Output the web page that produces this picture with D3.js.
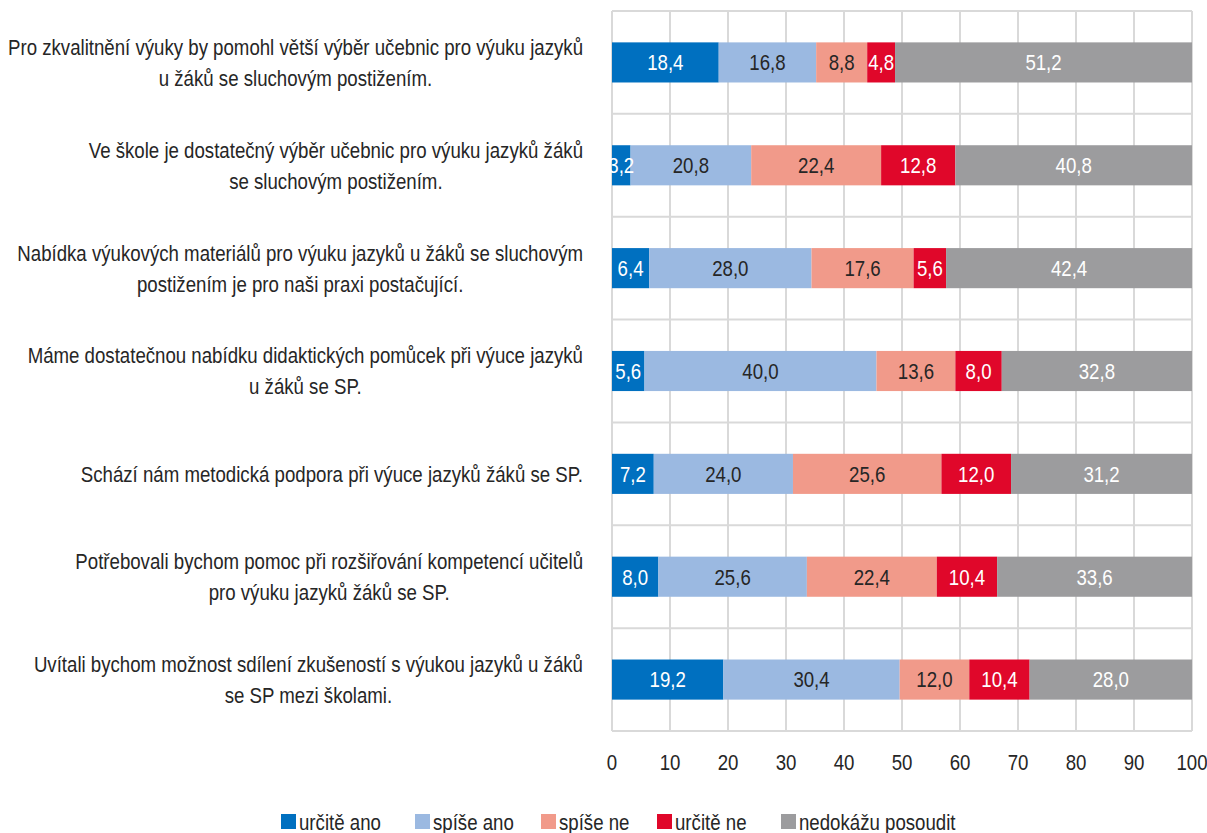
<!DOCTYPE html>
<html>
<head>
<meta charset="utf-8">
<script src="https://cdn.jsdelivr.net/npm/d3@7"></script>
<style>
  body { margin: 0; background: #fff; }
  svg text { font-family: "Liberation Sans", Arial, sans-serif; fill: #262626; }
</style>
</head>
<body>
<script>
// Data
var statements = [
  ["Pro zkvalitnění výuky by pomohl větší výběr učebnic pro výuku jazyků", "u žáků se sluchovým postižením."],
  ["Ve škole je dostatečný výběr učebnic pro výuku jazyků žáků", "se sluchovým postižením."],
  ["Nabídka výukových materiálů pro výuku jazyků u žáků se sluchovým", "postižením je pro naši praxi postačující."],
  ["Máme dostatečnou nabídku didaktických pomůcek při výuce jazyků", "u žáků se SP."],
  ["Schází nám metodická podpora při výuce jazyků žáků se SP."],
  ["Potřebovali bychom pomoc při rozšiřování kompetencí učitelů", "pro výuku jazyků žáků se SP."],
  ["Uvítali bychom možnost sdílení zkušeností s výukou jazyků u žáků", "se SP mezi školami."]
];
var seriesNames = ["určitě ano", "spíše ano", "spíše ne", "určitě ne", "nedokážu posoudit"];
var urciteAno = [18.4, 3.2, 6.4, 5.6, 7.2, 8.0, 19.2];
var spiseAno  = [16.8, 20.8, 28.0, 40.0, 24.0, 25.6, 30.4];
var spiseNe   = [8.8, 22.4, 17.6, 13.6, 25.6, 22.4, 12.0];
var urciteNe  = [4.8, 12.8, 5.6, 8.0, 12.0, 10.4, 10.4];
var nedokazu  = [51.2, 40.8, 42.4, 32.8, 31.2, 33.6, 28.0];
var xTicks = [0, 10, 20, 30, 40, 50, 60, 70, 80, 90, 100];

var colors = ["#0070c0", "#9bb9e1", "#f19a8a", "#e0072a", "#9c9c9e"];
var labelColors = ["#ffffff", "#262626", "#262626", "#ffffff", "#ffffff"];

// Set up svg
var svgWidth = 1207;
var svgHeight = 833;
var margin = { top: 11, right: 15, bottom: 102, left: 612 };
var width = svgWidth - margin.left - margin.right;
var height = svgHeight - margin.top - margin.bottom;
var fontSize = "22px";

var svg = d3.select("body").append("svg")
  .attr("width", svgWidth)
  .attr("height", svgHeight);

var chartGroup = svg.append("g")
  .attr("transform", `translate(${margin.left}, ${margin.top})`);

// condensed look: squeeze text horizontally (no narrow font installed)
var squeeze = 1;
function condense(sel) {
  sel.each(function() {
    var w = this.getComputedTextLength();
    d3.select(this)
      .attr("textLength", w * squeeze)
      .attr("lengthAdjust", "spacingAndGlyphs");
  });
}
// widest category line is ~575px wide in the original
var probe = svg.append("text").style("font-size", fontSize).text(statements[0][0]);
squeeze = 575 / probe.node().getComputedTextLength();
probe.remove();

// build rows
var rows = statements.map(function(s, i) {
  var vals = [urciteAno[i], spiseAno[i], spiseNe[i], urciteNe[i], nedokazu[i]];
  var row = { idx: i };
  seriesNames.forEach(function(n, k) { row[n] = vals[k]; });
  return row;
});

var stack = d3.stack().keys(seriesNames)(rows);

// scales
var xScale = d3.scaleLinear().domain([0, 100]).range([0, width]);
var yScale = d3.scaleBand()
  .domain(d3.range(statements.length))
  .range([0, height])
  .paddingInner(0.61)
  .paddingOuter(0.305);
var step = yScale.step();

// grid
var grid = chartGroup.append("g").attr("stroke", "#d9d9d9").attr("stroke-width", 2);
xTicks.forEach(function(t) {
  grid.append("line")
    .attr("x1", xScale(t)).attr("x2", xScale(t))
    .attr("y1", 0).attr("y2", height);
});
d3.range(statements.length + 1).forEach(function(i) {
  grid.append("line")
    .attr("x1", 0).attr("x2", width)
    .attr("y1", i * step).attr("y2", i * step);
});

// bars
var layers = chartGroup.selectAll(".layer")
  .data(stack)
  .enter()
  .append("g")
  .attr("class", "layer")
  .attr("fill", (d, i) => colors[i]);

layers.selectAll("rect")
  .data(d => d)
  .enter()
  .append("rect")
  .attr("x", d => xScale(d[0]))
  .attr("y", d => yScale(d.data.idx))
  .attr("width", d => xScale(d[1]) - xScale(d[0]))
  .attr("height", yScale.bandwidth());

// value labels
stack.forEach(function(layer, k) {
  chartGroup.append("g").selectAll("text")
    .data(layer)
    .enter()
    .append("text")
    .attr("x", d => (xScale(d[0]) + xScale(d[1])) / 2)
    .attr("y", d => yScale(d.data.idx) + yScale.bandwidth() / 2)
    .attr("dy", "0.36em")
    .attr("text-anchor", "middle")
    .style("font-size", fontSize)
    .style("fill", labelColors[k])
    .text(d => d3.format(".1f")(d[1] - d[0]).replace(".", ","))
    .call(condense);
});

// x axis labels
chartGroup.append("g").selectAll("text")
  .data(xTicks)
  .enter()
  .append("text")
  .attr("x", d => xScale(d))
  .attr("y", height + 39)
  .attr("text-anchor", "middle")
  .style("font-size", fontSize)
  .text(d => d)
  .call(condense);

// category labels: lines centered on each other, block right-aligned
var labelRight = 583;
statements.forEach(function(lines, i) {
  var g = svg.append("g");
  var cy = margin.top + yScale(i) + yScale.bandwidth() / 2;
  var lineH = 31;
  var texts = lines.map(function(line, j) {
    return g.append("text")
      .attr("y", cy + (j - (lines.length - 1) / 2) * lineH)
      .attr("dy", "0.36em")
      .attr("text-anchor", "middle")
      .style("font-size", fontSize)
      .text(line)
      .call(condense);
  });
  var maxW = d3.max(texts, t => +t.attr("textLength"));
  texts.forEach(t => t.attr("x", labelRight - maxW / 2));
});

// legend
var legendX = [281, 415, 541, 657, 781];
var legend = svg.append("g").attr("transform", "translate(0, 822)");
seriesNames.forEach(function(n, i) {
  legend.append("rect")
    .attr("x", legendX[i]).attr("y", -8)
    .attr("width", 15).attr("height", 15)
    .attr("fill", colors[i]);
  legend.append("text")
    .attr("x", legendX[i] + 18)
    .attr("y", 0)
    .attr("dy", "0.36em")
    .style("font-size", fontSize)
    .text(n)
    .call(condense);
});
</script>
</body>
</html>
